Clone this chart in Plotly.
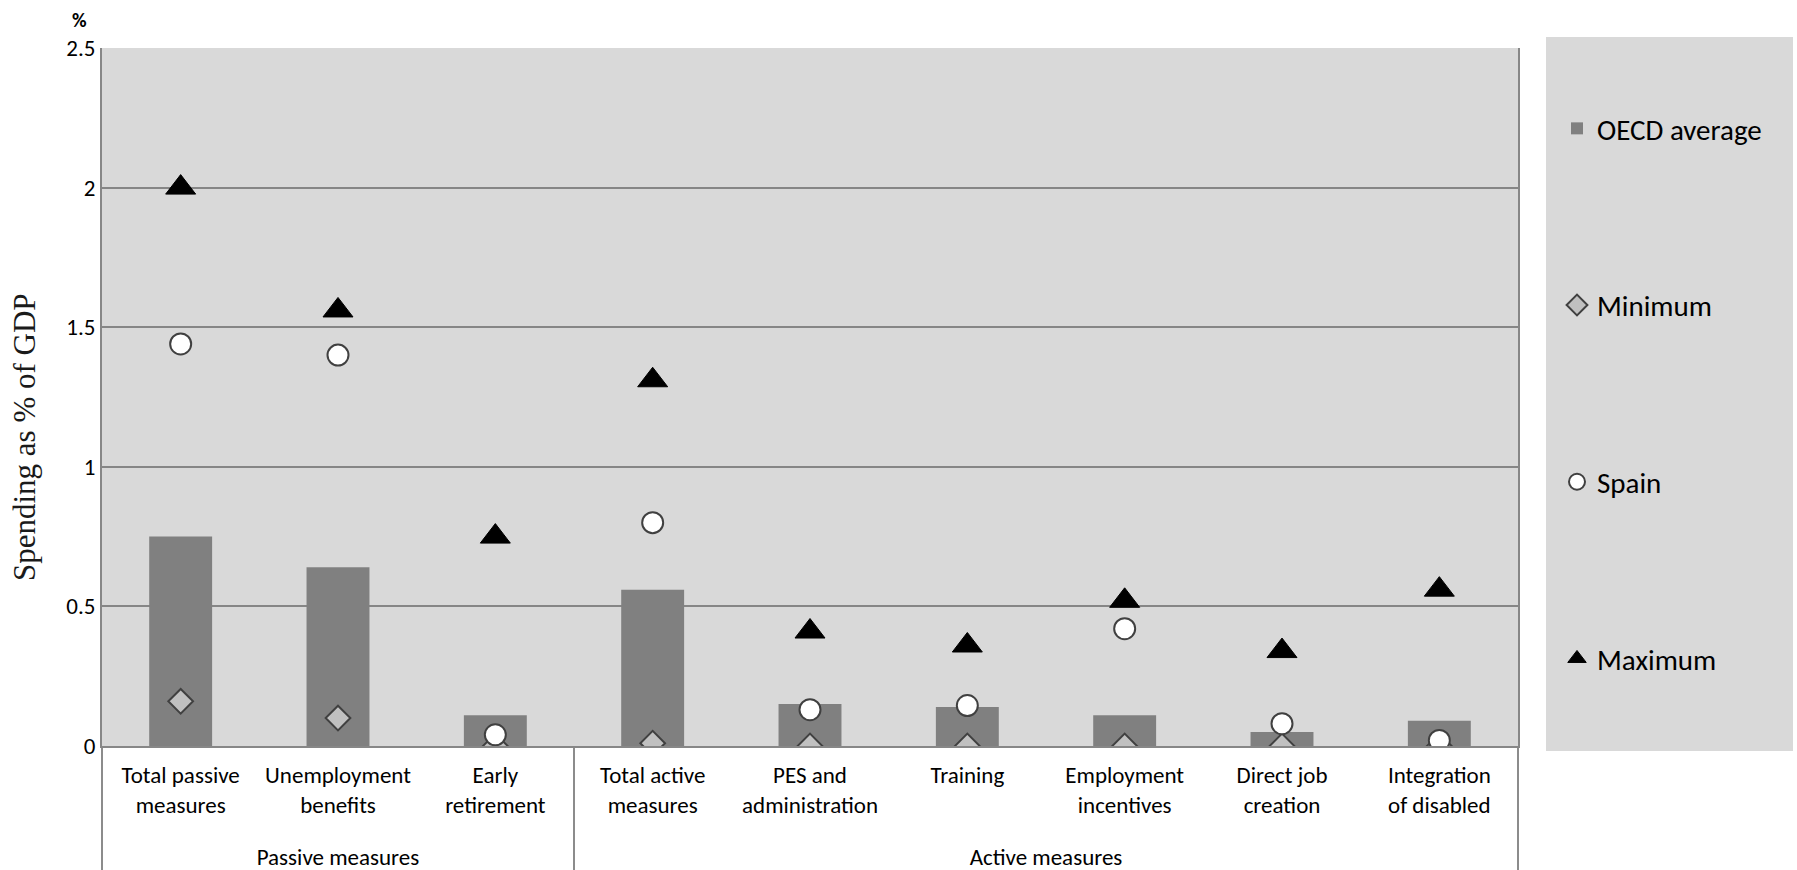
import plotly.graph_objects as go

groups = ["<br>Passive measures"] * 3 + ["<br>Active measures"] * 6
categories = [
    "Total passive<br>measures", "Unemployment<br>benefits", "Early<br>retirement",
    "Total active<br>measures", "PES and<br>administration", "Training",
    "Employment<br>incentives", "Direct job<br>creation", "Integration<br>of disabled",
]
oecd_average = [0.75, 0.64, 0.11, 0.56, 0.15, 0.14, 0.11, 0.05, 0.09]
minimum = [0.16, 0.10, 0.00, 0.01, 0.00, 0.00, 0.00, 0.00, 0.00]
spain = [1.44, 1.40, 0.04, 0.80, 0.13, 0.145, 0.42, 0.08, 0.02]
maximum = [2.00, 1.56, 0.75, 1.31, 0.41, 0.36, 0.52, 0.34, 0.56]
y_ticks = [0, 0.5, 1, 1.5, 2, 2.5]

FONT = "Carlito, Lato, sans-serif"
W, H = 1797, 870
L, R, T, B = 102, 1797 - 1518, 48, 870 - 746
PW, PH = W - L - R, H - T - B

def px(x):
    return (x - L) / PW

def py(y):
    return (H - B - y) / PH

x = [groups, categories]
fig = go.Figure()
fig.add_trace(go.Bar(x=x, y=oecd_average, name="OECD average", marker_color="#808080",
                     marker_line_width=0, legendgroup="a"))
fig.add_trace(go.Scatter(x=x, y=minimum, name="Minimum", mode="markers", legendgroup="b",
                         marker=dict(symbol="diamond", size=19, color="#c0c0c0",
                                     line=dict(color="#404040", width=2))))
fig.add_trace(go.Scatter(x=x, y=spain, name="Spain", mode="markers", legendgroup="c",
                         marker=dict(symbol="circle", size=21, color="white",
                                     line=dict(color="#404040", width=2))))
fig.add_trace(go.Scatter(x=x, y=maximum, name="Maximum", mode="markers", legendgroup="d",
                         marker=dict(symbol="triangle-up", size=26, color="black",
                                     line=dict(color="black", width=1))))

fig.update_layout(
    width=W, height=H,
    margin=dict(l=L, r=R, t=T, b=B, autoexpand=False),
    paper_bgcolor="white", plot_bgcolor="#d9d9d9",
    bargap=0.6,
    font=dict(family=FONT, color="black"),
    showlegend=True,
    legend=dict(x=px(1557), xanchor="left", y=py(103), yanchor="top",
                bgcolor="rgba(0,0,0,0)", font=dict(family=FONT, size=29, color="black"),
                tracegroupgap=136, itemsizing="trace"),
    xaxis=dict(type="multicategory", range=[-0.5, 8.5], showline=True, linecolor="#878787",
               linewidth=2, showgrid=False, ticks="", ticklen=0, showdividers=True,
               dividercolor="#8c8c8c", dividerwidth=2, ticklabelstandoff=7, tickangle=0,
               tickfont=dict(family=FONT, size=23, color="black"), automargin=False),
    yaxis=dict(range=[0, 2.5], tickvals=y_ticks, showgrid=True, gridcolor="#868686",
               gridwidth=2, showline=True, linecolor="#878787", linewidth=2, mirror=True,
               zeroline=False, ticks="", ticklen=0, ticklabelstandoff=0,
               tickfont=dict(family=FONT, size=23, color="black"), automargin=False),
    shapes=[dict(type="rect", xref="paper", yref="paper", x0=px(1546), x1=px(1793),
                 y0=py(751), y1=py(37), fillcolor="#d9d9d9", line_width=0, layer="below")],
    annotations=[
        dict(text="Spending as % of GDP", xref="paper", yref="paper", x=px(24), y=py(437),
             xanchor="center", yanchor="middle", textangle=-90, showarrow=False,
             font=dict(family="Liberation Serif", size=31, color="#1a1a1a")),
        dict(text="<b>%</b>", xref="paper", yref="paper", x=px(79), y=py(20),
             xanchor="center", yanchor="middle", showarrow=False,
             font=dict(family=FONT, size=20, color="black")),
    ],
)

fig.write_html("out.html")
